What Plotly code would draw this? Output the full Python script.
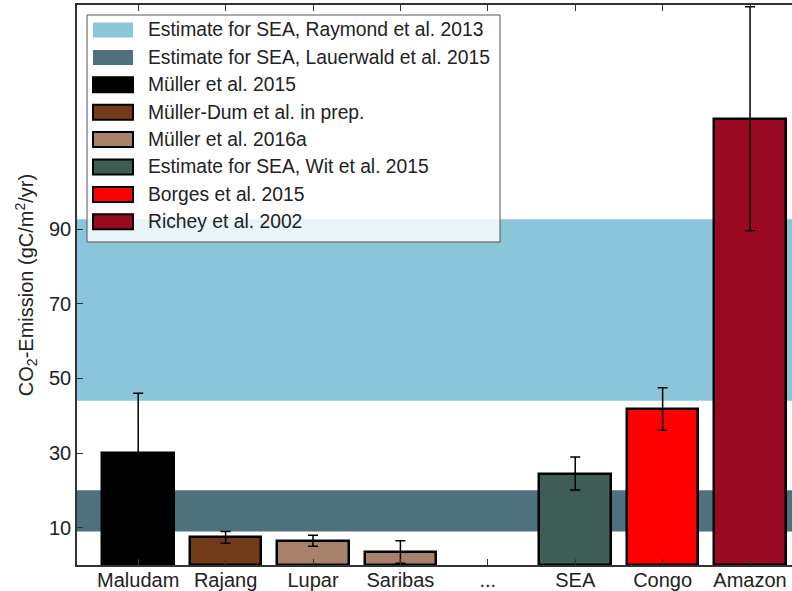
import plotly.graph_objects as go

# ---- data ----
categories = ["Maludam", "Rajang", "Lupar", "Saribas", "...", "SEA", "Congo", "Amazon"]
values = [30.0, 7.4, 6.5, 3.5, None, 24.5, 41.8, 119.5]
errors = [16.0, 1.6, 1.5, 3.0, None, 4.4, 5.7, 30.0]
bar_colors = ["#000000", "#733c18", "#a8816a", "#a8816a", "#ffffff", "#3d5d55", "#ff0000", "#990a22"]

band_names = ["Estimate for SEA, Raymond et al. 2013", "Estimate for SEA, Lauerwald et al. 2015"]
band_low = [44.0, 9.0]
band_high = [92.6, 20.0]
band_colors = ["#8bc5da", "#4f717e"]

legend_names = band_names + [
    "Müller et al. 2015",
    "Müller-Dum et al. in prep.",
    "Müller et al. 2016a",
    "Estimate for SEA, Wit et al. 2015",
    "Borges et al. 2015",
    "Richey et al. 2002",
]
legend_colors = band_colors + ["#000000", "#733c18", "#a8816a", "#3d5d55", "#ff0000", "#990a22"]
legend_edged = [False, False, True, True, True, True, True, True]

yticks = [10, 30, 50, 70, 90]

# ---- figure ----
W, H = 792, 591
ml, mt, mr, mb = 77, 5, 0, 26
pw, ph = W - ml - mr, H - mt - mb

fig = go.Figure()
fig.add_trace(go.Bar(
    x=categories, y=values, width=0.82,
    marker=dict(color=bar_colors, line=dict(color="#000000", width=2.5)),
    error_y=dict(type="data", array=errors, visible=True, color="#000000", thickness=1.5, width=5),
    showlegend=False,
))

shapes = []
for lo, hi, c in zip(band_low, band_high, band_colors):
    shapes.append(dict(type="rect", xref="paper", yref="y", x0=0, x1=1, y0=lo, y1=hi,
                       fillcolor=c, line=dict(width=0), layer="below"))

def px2x(px):
    return (px - ml) / pw

def py2y(py):
    return (H - mb - py) / ph

# legend box
shapes.append(dict(type="rect", xref="paper", yref="paper",
                   x0=px2x(87), x1=px2x(500), y0=py2y(242), y1=py2y(15),
                   fillcolor="rgba(255,255,255,0.8)", line=dict(color="#555555", width=1), layer="above"))
annotations = []
for i, (name, col, edged) in enumerate(zip(legend_names, legend_colors, legend_edged)):
    cy = 30 + 27.4 * i
    shapes.append(dict(type="rect", xref="paper", yref="paper",
                       x0=px2x(93), x1=px2x(133), y0=py2y(cy + 7.5), y1=py2y(cy - 7.5),
                       fillcolor=col,
                       line=dict(color="#000000" if edged else col, width=2 if edged else 0),
                       layer="above"))
    annotations.append(dict(xref="paper", yref="paper", x=px2x(146), y=py2y(cy),
                            text=name, showarrow=False, xanchor="left", yanchor="middle",
                            font=dict(size=19.3, color="#222222")))

fig.update_layout(
    width=W, height=H,
    margin=dict(l=ml, r=mr, t=mt, b=mb),
    paper_bgcolor="white", plot_bgcolor="rgba(0,0,0,0)",
    font=dict(family="Liberation Sans, Arial, sans-serif", size=20, color="#222222"),
    shapes=shapes, annotations=annotations,
    bargap=0,
    xaxis=dict(type="category", categoryorder="array", categoryarray=categories,
               range=[-0.7, 7.48], showline=True, linecolor="#333333", linewidth=1.5,
               mirror="ticks", ticks="inside", ticklen=6, tickcolor="#333333",
               showgrid=False, zeroline=False, tickfont=dict(size=20), automargin=False,
               ticklabelstandoff=-4),
    yaxis=dict(range=[0, 150], tickvals=yticks, showline=True, linecolor="#333333", linewidth=1.5,
               ticks="inside", ticklen=6, tickcolor="#333333", showgrid=False, zeroline=False,
               tickfont=dict(size=20), automargin=False,
               title=dict(text="CO<sub>2</sub>-Emission (gC/m<sup>2</sup>/yr)", font=dict(size=20), standoff=10)),
)

fig.write_html("out.html")
